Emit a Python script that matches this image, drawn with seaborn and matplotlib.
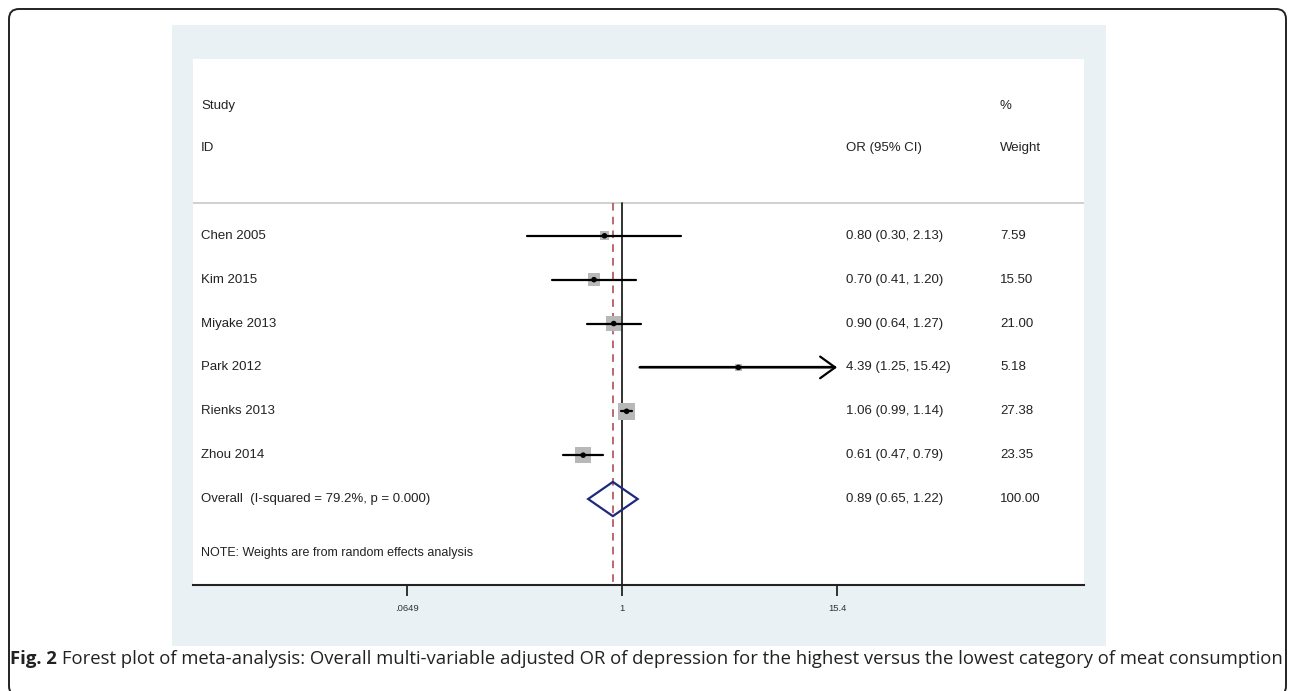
import numpy as np
import pandas as pd
import matplotlib
matplotlib.use("Agg")
import matplotlib.pyplot as plt
import seaborn as sns
from matplotlib.patches import FancyBboxPatch, Rectangle, Polygon

studies = ["Chen 2005", "Kim 2015", "Miyake 2013", "Park 2012", "Rienks 2013", "Zhou 2014"]
odds = [0.80, 0.70, 0.90, 4.39, 1.06, 0.61]
lower = [0.30, 0.41, 0.64, 1.25, 0.99, 0.47]
upper = [2.13, 1.20, 1.27, 15.42, 1.14, 0.79]
weights = [7.59, 15.50, 21.00, 5.18, 27.38, 23.35]

overall_label = "Overall  (I-squared = 79.2%, p = 0.000)"
overall_or = 0.89
overall_lo = 0.65
overall_hi = 1.22
overall_weight = "100.00"

tick_values = [0.0649, 1, 15.4]
tick_labels = [".0649", "1", "15.4"]

note = "NOTE: Weights are from random effects analysis"
caption_bold = "Fig. 2"
caption_rest = ("Forest plot of meta-analysis: Overall multi-variable adjusted OR of depression "
                "for the highest versus the lowest category of meat consumption")

df = pd.DataFrame({"study": studies, "or": odds, "lo": lower, "hi": upper, "w": weights})
df["row"] = np.arange(len(df))
overall_row = len(df)

sns.set_theme(style="white")
plt.rcParams["font.family"] = ["Liberation Sans", "DejaVu Sans"]

fig = plt.figure(figsize=(12.92, 6.91), dpi=100)
fig.patch.set_facecolor("white")

# outer frame and light panel (behind the axes)
fig.patches.append(FancyBboxPatch((0.09, -0.05), 12.77, 6.87, boxstyle="round,pad=0,rounding_size=0.1",
                                  transform=fig.dpi_scale_trans, facecolor="none",
                                  edgecolor="#222222", linewidth=1.4, zorder=-2))
fig.patches.append(Rectangle((172 / 1292, 1 - 646 / 691), 934 / 1292, 621 / 691,
                             transform=fig.transFigure, facecolor="#e9f1f4", edgecolor="none",
                             zorder=-1))

ax = fig.add_axes([193 / 1292, 1 - 585 / 691, 891 / 1292, 526 / 691])
ax.set_facecolor("white")
ax.set_xscale("log")
ax.set_xlim(np.exp(-5.456), np.exp(5.875))
ax.set_ylim(7.96, -4.03)

line_top = -0.75
# header separator
ax.axhline(line_top, color="#c8c8c8", linewidth=1.2, zorder=1)
# null line and overall line
ax.plot([1, 1], [line_top, 7.96], color="#222222", linewidth=1.3, zorder=2)
ax.plot([overall_or, overall_or], [line_top, 7.96], color="#a8414a", linewidth=1.1,
        linestyle=(0, (5, 4)), zorder=2)

# CI lines
axis_max = tick_values[-1]
for _, r in df.iterrows():
    if r["hi"] > axis_max:
        ax.plot([r["lo"], axis_max * 0.97], [r["row"], r["row"]], color="black", linewidth=1.6, zorder=3)
        ax.annotate("", xy=(axis_max, r["row"]), xytext=(r["lo"], r["row"]),
                    arrowprops=dict(arrowstyle="->,head_length=0.9,head_width=0.65",
                                    color="black", linewidth=1.6, shrinkA=0, shrinkB=0), zorder=3)
    else:
        ax.plot([r["lo"], r["hi"]], [r["row"], r["row"]], color="black", linewidth=1.6, zorder=3)

# weight boxes and point estimates
sns.scatterplot(data=df, x="or", y="row", size="w", sizes=(5.6 * min(weights), 5.6 * max(weights)),
                size_norm=(min(weights), max(weights)), marker="s", color="#b8b8b8",
                edgecolor="none", legend=False, ax=ax, zorder=2.5)
sns.scatterplot(data=df, x="or", y="row", marker="o", color="black", s=16,
                edgecolor="none", legend=False, ax=ax, zorder=4)

# overall diamond
half_h = 0.39
diamond = Polygon([(overall_lo, overall_row), (overall_or, overall_row - half_h),
                   (overall_hi, overall_row), (overall_or, overall_row + half_h)],
                  closed=True, facecolor="none", edgecolor="#1d2a7c", linewidth=1.6, zorder=5)
ax.add_patch(diamond)

# text columns
tr = ax.get_yaxis_transform()
fs = 9.5
x_lab, x_or, x_w = 0.009, 0.733, 0.9057
ax.text(x_lab, -2.97, "Study", transform=tr, fontsize=fs, va="center", color="#222222")
ax.text(x_lab, -1.99, "ID", transform=tr, fontsize=fs, va="center", color="#222222")
ax.text(x_or, -1.99, "OR (95% CI)", transform=tr, fontsize=fs, va="center", color="#222222")
ax.text(x_w, -2.97, "%", transform=tr, fontsize=fs, va="center", color="#222222")
ax.text(x_w, -1.99, "Weight", transform=tr, fontsize=fs, va="center", color="#222222")
for _, r in df.iterrows():
    ax.text(x_lab, r["row"], r["study"], transform=tr, fontsize=fs, va="center", color="#222222")
    ax.text(x_or, r["row"], f"{r['or']:.2f} ({r['lo']:.2f}, {r['hi']:.2f})", transform=tr,
            fontsize=fs, va="center", color="#222222")
    ax.text(x_w, r["row"], f"{r['w']:.2f}", transform=tr, fontsize=fs, va="center", color="#222222")
ax.text(x_lab, overall_row, overall_label, transform=tr, fontsize=fs, va="center", color="#222222")
ax.text(x_or, overall_row, f"{overall_or:.2f} ({overall_lo:.2f}, {overall_hi:.2f})", transform=tr,
        fontsize=fs, va="center", color="#222222")
ax.text(x_w, overall_row, overall_weight, transform=tr, fontsize=fs, va="center", color="#222222")
ax.text(x_lab, 7.23, note, transform=tr, fontsize=fs - 0.5, va="center", color="#222222")

# axis
for side in ["top", "right", "left"]:
    ax.spines[side].set_visible(False)
ax.spines["bottom"].set_color("#222222")
ax.spines["bottom"].set_linewidth(1.5)
ax.set_yticks([])
ax.set_xticks(tick_values)
ax.set_xticklabels(tick_labels)
ax.xaxis.set_minor_locator(matplotlib.ticker.NullLocator())
ax.tick_params(axis="x", direction="out", length=8, width=1.3, color="#222222",
               labelsize=6.8, labelcolor="#333333", pad=6, bottom=True)
ax.set_xlabel("")
ax.set_ylabel("")

# caption
cap_y = 1 - 659 / 691
t1 = fig.text(10 / 1292, cap_y, caption_bold, fontsize=13.3, fontweight="bold", va="center",
              family=["Open Sans", "DejaVu Sans"], color="#222222")
fig.canvas.draw()
bb = t1.get_window_extent()
fig.text((bb.x1 + 5) / 1292, cap_y, caption_rest, fontsize=13.3, va="center",
         family=["Open Sans", "DejaVu Sans"], color="#222222")

fig.savefig("out.png", dpi=100)
